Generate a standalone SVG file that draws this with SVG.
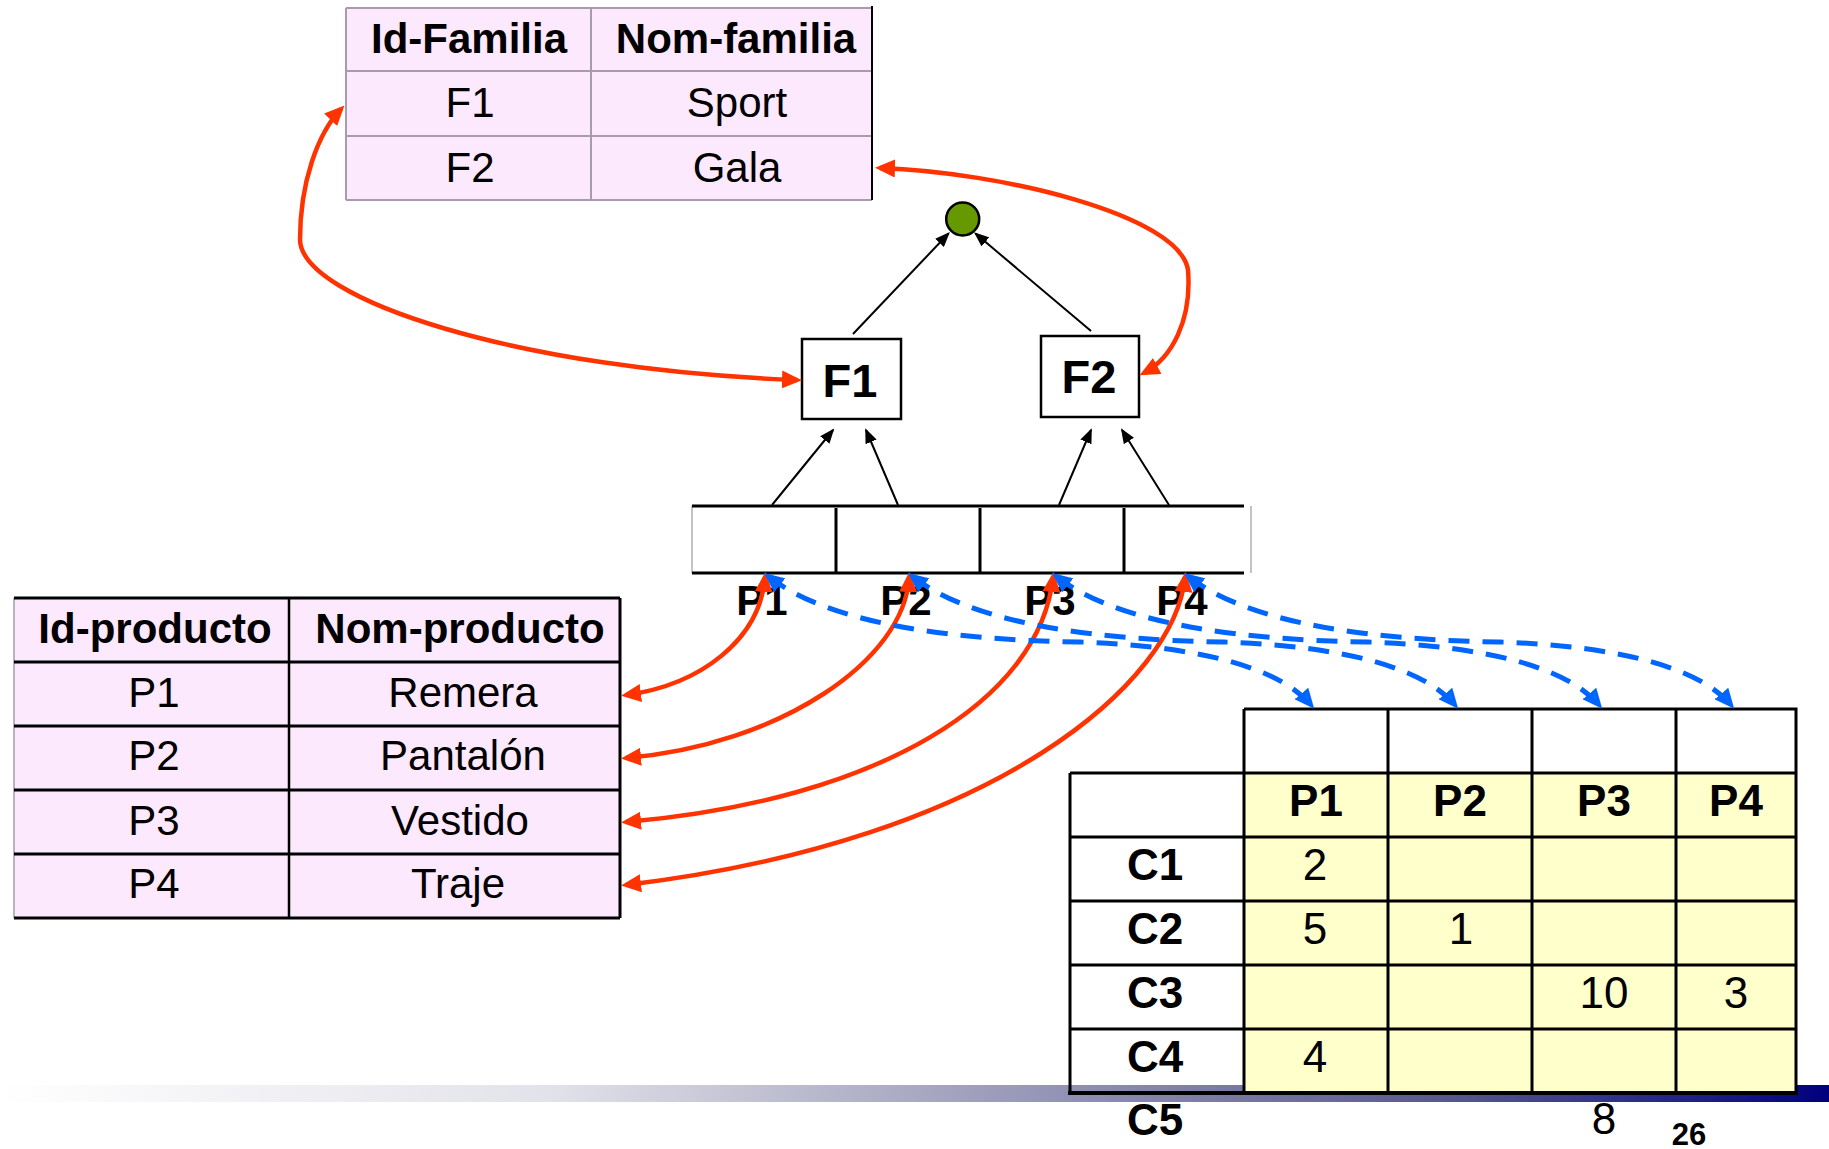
<svg xmlns="http://www.w3.org/2000/svg" width="1829" height="1149" viewBox="0 0 1829 1149">
  <defs>
    <style>
      text { font-family: "Liberation Sans", Arial, sans-serif; fill: #000; }
      .hd { font-size: 42px; font-weight: bold; text-anchor: middle; }
      .td { font-size: 42px; text-anchor: middle; }
      .lbl { font-size: 42px; font-weight: bold; text-anchor: middle; }
      .cl { font-size: 44px; font-weight: bold; text-anchor: middle; }
      .num { font-size: 44px; text-anchor: middle; }
      .node-label { font-size: 47px; font-weight: bold; text-anchor: middle; }
      .pink { fill: #fde9fd; }
      .grid-gray { stroke: #a99aae; stroke-width: 2; fill: none; }
      .grid { stroke: #000; stroke-width: 3; fill: none; }
      .node-box { fill: #fff; stroke: #000; stroke-width: 2.5; }
      .red { fill: none; stroke: #ff3300; stroke-width: 4.5; marker-start: url(#ah-red); marker-end: url(#ah-red); }
      .blue { fill: none; stroke: #0066ff; stroke-width: 5; stroke-dasharray: 21 13; marker-start: url(#ah-blue); marker-end: url(#ah-blue); }
      .tree { fill: none; stroke: #000; stroke-width: 2; marker-end: url(#ah-black); }
    </style>
    <linearGradient id="band" x1="0" y1="0" x2="1" y2="0">
      <stop offset="0" stop-color="#ffffff"/>
      <stop offset="0.3" stop-color="#e2e2ea"/>
      <stop offset="0.5" stop-color="#a9a9c2"/>
      <stop offset="0.8" stop-color="#55558f"/>
      <stop offset="1" stop-color="#00007f"/>
    </linearGradient>
    <marker id="ah-red" viewBox="0 0 20 18" refX="15" refY="9" markerWidth="20" markerHeight="18" markerUnits="userSpaceOnUse" orient="auto-start-reverse">
      <path d="M0,0 L20,9 L0,18 z" fill="#ff3300"/>
    </marker>
    <marker id="ah-blue" viewBox="0 0 20 18" refX="15" refY="9" markerWidth="20" markerHeight="18" markerUnits="userSpaceOnUse" orient="auto-start-reverse">
      <path d="M0,0 L20,9 L0,18 z" fill="#0066ff"/>
    </marker>
    <marker id="ah-black" viewBox="0 0 15 12" refX="13" refY="6" markerWidth="15" markerHeight="12" markerUnits="userSpaceOnUse" orient="auto">
      <path d="M0,0 L15,6 L0,12 z" fill="#000"/>
    </marker>
  </defs>

  <rect width="1829" height="1149" fill="#fff"/>

  <!-- footer band -->
  <rect x="0" y="1085" width="1829" height="17" fill="url(#band)"/>

  <!-- Familia table -->
  <g id="tabla-familia">
    <rect class="pink" x="346" y="8" width="526" height="192"/>
    <path class="grid-gray" d="M346,8 H872 M346,71 H872 M346,136 H872 M346,200 H872 M346,8 V200 M591,8 V200"/>
    <path d="M872,6 V200" stroke="#000" stroke-width="2" fill="none"/>
    <text class="hd" x="469" y="53">Id-Familia</text>
    <text class="hd" x="736" y="53">Nom-familia</text>
    <text class="td" x="470" y="117">F1</text>
    <text class="td" x="737" y="117">Sport</text>
    <text class="td" x="470" y="182">F2</text>
    <text class="td" x="737" y="182">Gala</text>
  </g>

  <!-- Producto table -->
  <g id="tabla-producto">
    <rect class="pink" x="14" y="598" width="606" height="320"/>
    <path d="M14,598 V918" stroke="#a99aae" stroke-width="1.5" fill="none"/>
    <path class="grid" d="M14,598 H620 M14,662 H620 M14,726 H620 M14,790 H620 M14,854 H620 M14,918 H620 M620,598 V918"/>
    <path d="M289,598 V918" stroke="#000" stroke-width="2.5" fill="none"/>
    <text class="hd" x="155" y="643">Id-producto</text>
    <text class="hd" x="460" y="643">Nom-producto</text>
    <text class="td" x="154" y="707">P1</text>
    <text class="td" x="463" y="707">Remera</text>
    <text class="td" x="154" y="770">P2</text>
    <text class="td" x="463" y="770">Pantalón</text>
    <text class="td" x="154" y="835">P3</text>
    <text class="td" x="460" y="835">Vestido</text>
    <text class="td" x="154" y="898">P4</text>
    <text class="td" x="458" y="898">Traje</text>
  </g>

  <!-- Cliente x Producto table -->
  <g id="tabla-ventas">
    <rect x="1244" y="709" width="552" height="64" fill="#fff"/>
    <rect x="1244" y="773" width="552" height="320" fill="#ffffcc"/>
    <path class="grid" d="M1244,709 H1796 V1093 M1070,773 H1796 M1070,837 H1796 M1070,901 H1796 M1070,965 H1796 M1070,1029 H1796 M1070,773 V1093 M1244,709 V1093 M1388,709 V1093 M1532,709 V1093 M1676,709 V1093"/>
    <path d="M1068,1093 H1798" stroke="#000" stroke-width="4" fill="none"/>
    <text class="cl" x="1316" y="816">P1</text>
    <text class="cl" x="1460" y="816">P2</text>
    <text class="cl" x="1604" y="816">P3</text>
    <text class="cl" x="1736" y="816">P4</text>
    <text class="cl" x="1155" y="880">C1</text>
    <text class="cl" x="1155" y="944">C2</text>
    <text class="cl" x="1155" y="1008">C3</text>
    <text class="cl" x="1155" y="1072">C4</text>
    <text class="cl" x="1155" y="1135">C5</text>
    <text class="num" x="1315" y="880">2</text>
    <text class="num" x="1315" y="944">5</text>
    <text class="num" x="1461" y="944">1</text>
    <text class="num" x="1604" y="1008">10</text>
    <text class="num" x="1736" y="1008">3</text>
    <text class="num" x="1315" y="1072">4</text>
    <text class="num" x="1604" y="1134">8</text>
    <text x="1689" y="1145" style="font-size:31px;font-weight:bold;text-anchor:middle">26</text>
  </g>

  <!-- hierarchy root -->
  <g id="raiz">
    <circle cx="962.7" cy="219" r="16.5" fill="#669900" stroke="#000" stroke-width="2.5"/>
  </g>

  <g id="nodo-F1">
    <rect class="node-box" x="802" y="339" width="99" height="80"/>
    <text class="node-label" x="850" y="397">F1</text>
  </g>

  <g id="nodo-F2">
    <rect class="node-box" x="1041" y="336" width="98" height="81"/>
    <text class="node-label" x="1089" y="393">F2</text>
  </g>

  <!-- product cells P1..P4 -->
  <g id="productos">
    <path d="M692,506 V573 M1251,506 V573" stroke="#b0b0b0" stroke-width="1.5" fill="none"/>
    <path class="grid" d="M692,506 H1244 M692,573 H1244 M836,508 V573 M980,508 V573 M1124,508 V573"/>
    <text class="lbl" x="762" y="615">P1</text>
    <text class="lbl" x="906" y="615">P2</text>
    <text class="lbl" x="1050" y="615">P3</text>
    <text class="lbl" x="1182" y="615">P4</text>
  </g>

  <g id="conectores">
    <!-- roll-up arrows -->
    <path class="tree" d="M853,334 L948.5,233.5"/>
    <path class="tree" d="M1091,331 L975.5,233.5"/>
    <path class="tree" d="M772,505 L833,430"/>
    <path class="tree" d="M898,505 L866,430"/>
    <path class="tree" d="M1059,505 L1091,430"/>
    <path class="tree" d="M1169,505 L1122,430"/>

    <!-- family lookups -->
    <path class="red" d="M341,109 C318,133 300,182 300,240 C302,300 520,370 797,380"/>
    <path class="red" d="M880,168 C1000,172 1180,215 1188,270 C1192,320 1172,358 1144,373"/>

    <!-- product lookups -->
    <path class="red" d="M765,577 C760,640 700,685 626,695"/>
    <path class="red" d="M909,577 C905,660 780,745 626,758"/>
    <path class="red" d="M1053,577 C1040,700 880,800 626,822"/>
    <path class="red" d="M1185,577 C1175,680 1000,840 626,885"/>

    <!-- product to column links -->
    <path class="blue" d="M768,576 C830,625 955,640 1080,642 C1200,646 1280,668 1311,705"/>
    <path class="blue" d="M912,576 C974,625 1099,640 1224,642 C1344,646 1424,668 1455,705"/>
    <path class="blue" d="M1056,576 C1118,625 1243,640 1368,642 C1488,646 1568,668 1599,705"/>
    <path class="blue" d="M1188,576 C1250,625 1375,640 1500,642 C1620,646 1700,668 1731,705"/>
  </g>
</svg>
